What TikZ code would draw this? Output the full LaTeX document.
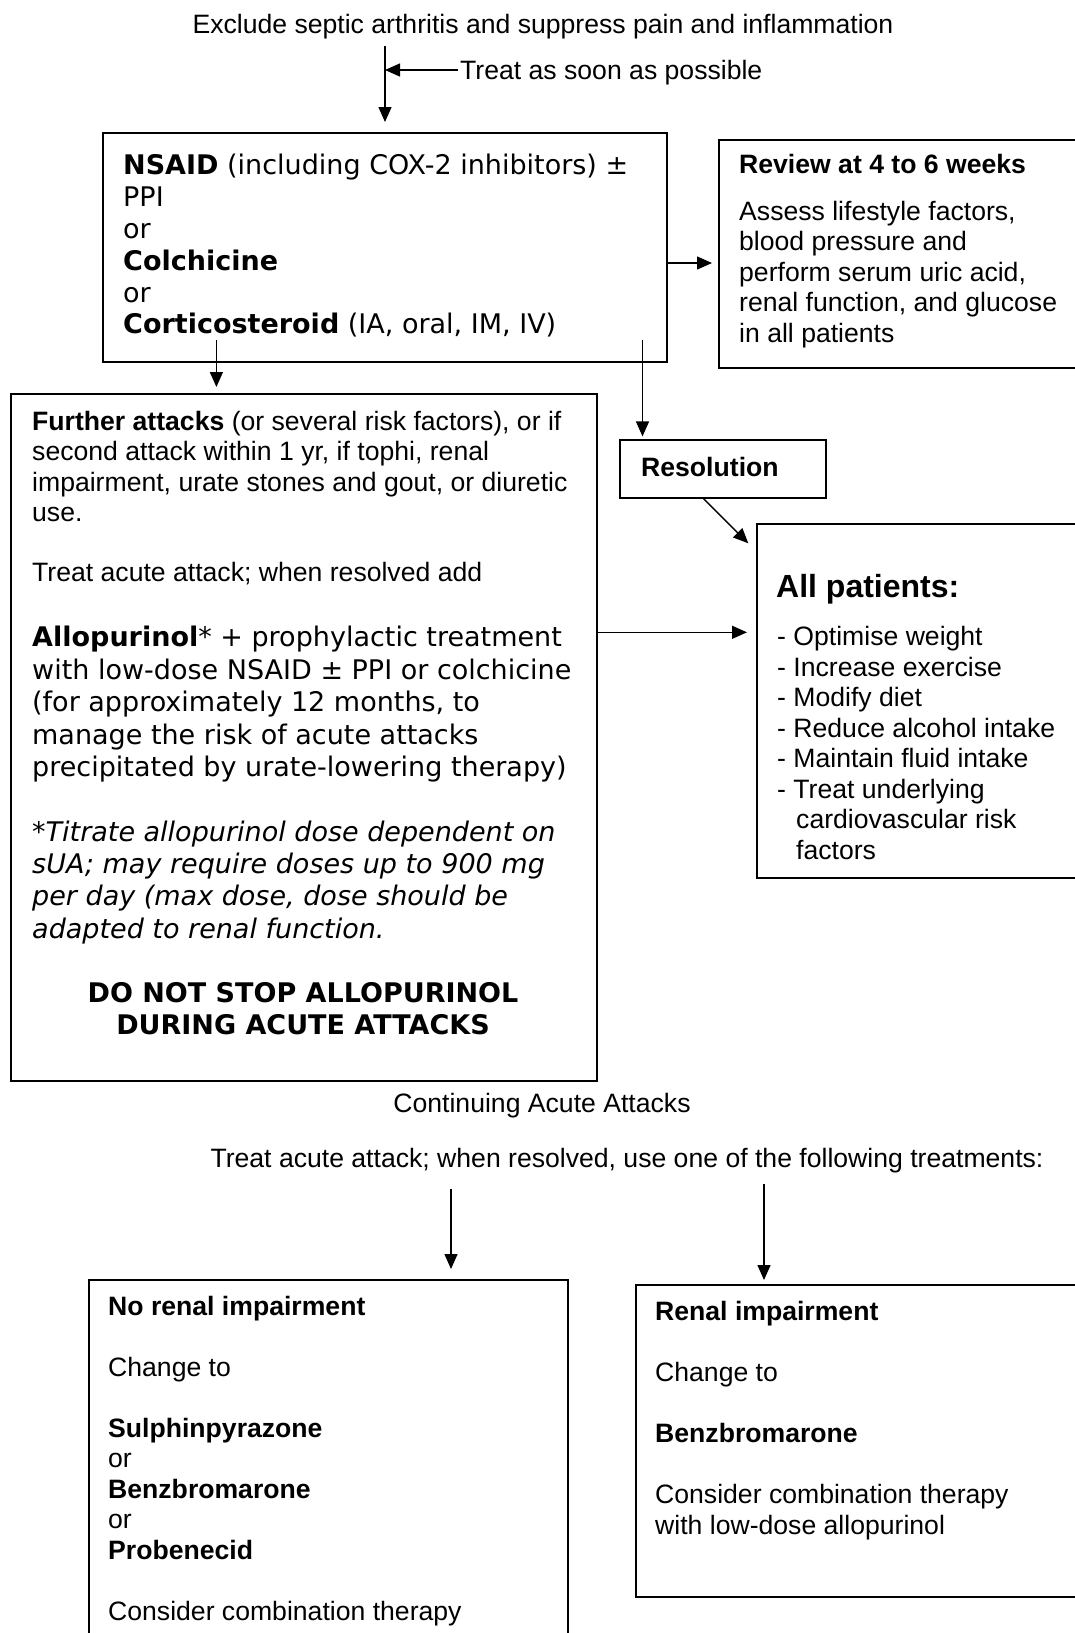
\documentclass[tikz,border=0pt]{standalone}
\usepackage{fontspec}
\setmainfont{Liberation Sans}
\newfontfamily\verdana{DejaVu Sans}
\usetikzlibrary{arrows.meta}

\tikzset{
  boxframe/.style={draw, line width=1.8pt, inner sep=0pt, anchor=north west},
  sanstext/.style={inner sep=0pt, anchor=north west, align=left, execute at begin node=\strut, font=\fontsize{26.6}{30.5}\selectfont},
  widetext/.style={inner sep=0pt, anchor=north west, align=left, execute at begin node=\strut, font=\verdana\fontsize{27}{32.6}\selectfont},
  oneline/.style={inner sep=0pt, anchor=base west, font=\fontsize{26.6}{30.5}\selectfont},
  link/.style={line width=1.4pt, -{Triangle[length=15pt,width=13pt]}},
}

\begin{document}
\begin{tikzpicture}[x=1pt,y=-1pt]
\useasboundingbox (0,0) rectangle (1074,1633);
\fill[white] (0,0) rectangle (1074,1633);

% top of the chart
\node[oneline, anchor=base] (title) at (543,33) {Exclude septic arthritis and suppress pain and inflammation};
\node[oneline] (soon) at (460,79) {Treat as soon as possible};
\coordinate (start) at (385,46);
\coordinate (soonend) at (458,70);

% boxes
\node[boxframe, minimum width=564pt, minimum height=229pt] (nsaid) at (102,132) {};
\node[boxframe, minimum width=400pt, minimum height=228pt] (review) at (718,139) {};
\node[boxframe, minimum width=206pt, minimum height=58pt] (resol) at (619,439) {};
\node[boxframe, minimum width=586pt, minimum height=687pt] (further) at (10,393) {};
\node[boxframe, minimum width=400pt, minimum height=354pt] (allpat) at (756,523) {};
\node[boxframe, minimum width=479pt, minimum height=420pt] (norenal) at (88,1279) {};
\node[boxframe, minimum width=500pt, minimum height=312pt] (renal) at (635,1284) {};

% box texts
\node[widetext, font=\verdana\fontsize{27}{31.9}\selectfont] (nsaidtxt) at (123,153.7)
  {\textbf{NSAID} (including COX-2 inhibitors) ±\\ PPI\\ or\\ \textbf{Colchicine}\\ or\\ \textbf{Corticosteroid} (IA, oral, IM, IV)};
\node[sanstext] (reviewtxt) at (739,153.6)
  {\textbf{Review at 4 to 6 weeks}\\[16.5pt] Assess lifestyle factors,\\ blood pressure and\\ perform serum uric acid,\\ renal function, and glucose\\ in all patients};
\node[oneline] (resoltxt) at (641,476) {\textbf{Resolution}};

\node[sanstext] (furthera) at (32,410.6)
  {\textbf{Further attacks} (or several risk factors), or if\\ second attack within 1 yr, if tophi, renal\\ impairment, urate stones and gout, or diuretic\\ use.};
\node[oneline] (furtherb) at (32,581) {Treat acute attack; when resolved add};
\node[widetext] (furtherc) at (32,625.7)
  {\textbf{Allopurinol}* + prophylactic treatment\\ with low-dose NSAID ± PPI or colchicine\\ (for approximately 12 months, to\\ manage the risk of acute attacks\\ precipitated by urate-lowering therapy)};
\node[widetext, font=\verdana\itshape\fontsize{27}{32.3}\selectfont] (furtherd) at (32,820.4)
  {*Titrate allopurinol dose dependent on\\ sUA; may require doses up to 900 mg\\ per day (max dose, dose should be\\ adapted to renal function.};
\node[widetext, anchor=north, align=center, font=\verdana\bfseries\fontsize{27}{32.3}\selectfont] (furthere) at (303,982.1)
  {DO NOT STOP ALLOPURINOL\\ DURING ACUTE ATTACKS};

\node[oneline, font=\fontsize{32}{38}\bfseries] (allpattitle) at (776,597) {All patients:};
\node[sanstext] (allpatlist) at (777,626.2)
  {- Optimise weight\\ - Increase exercise\\ - Modify diet\\ - Reduce alcohol intake\\ - Maintain fluid intake\\ - Treat underlying\\ \hspace*{19pt}cardiovascular risk\\ \hspace*{19pt}factors};

\node[oneline, anchor=base] (contin) at (542,1112) {Continuing Acute Attacks};
\node[oneline, anchor=base] (treatacute) at (627,1167) {Treat acute attack; when resolved, use one of the following treatments:};
\coordinate (leftstart) at (451,1189);
\coordinate (rightstart) at (764,1184);

\node[sanstext] (norenaltxt) at (108,1296)
  {\textbf{No renal impairment}\\[30.5pt] Change to\\[30.5pt] \textbf{Sulphinpyrazone}\\ or\\ \textbf{Benzbromarone}\\ or\\ \textbf{Probenecid}\\[30.5pt] Consider combination therapy};
\node[sanstext] (renaltxt) at (655,1301.2)
  {\textbf{Renal impairment}\\[30.5pt] Change to\\[30.5pt] \textbf{Benzbromarone}\\[30.5pt] Consider combination therapy\\ with low-dose allopurinol};

% connectors
\coordinate (nsaidleft) at (216.4,340);
\coordinate (nsaidright) at (642.5,340);
\coordinate (nsaidout) at (666,263);
\coordinate (furtherout) at (596,632.3);
\draw[link, shorten >=10pt] (start) -- (start |- nsaid.north);
\draw[link] (soonend) -- (start |- soonend);
\draw[link, shorten >=6pt] (nsaidout) -- (nsaidout -| review.west);
\draw[link, shorten >=6pt] (nsaidleft) -- (nsaidleft |- further.north);
\draw[link, shorten >=2.6pt] (nsaidright) -- (nsaidright |- resol.north);
\draw[link] ([xshift=-19.3pt]resol.south) -- ([xshift=-7.7pt,yshift=-20.3pt]allpat.north west);
\draw[link, shorten >=9pt] (furtherout) -- (furtherout -| allpat.west);
\draw[link, shorten >=10pt] (leftstart) -- (leftstart |- norenal.north);
\draw[link, shorten >=4pt] (rightstart) -- (rightstart |- renal.north);
\end{tikzpicture}
\end{document}
